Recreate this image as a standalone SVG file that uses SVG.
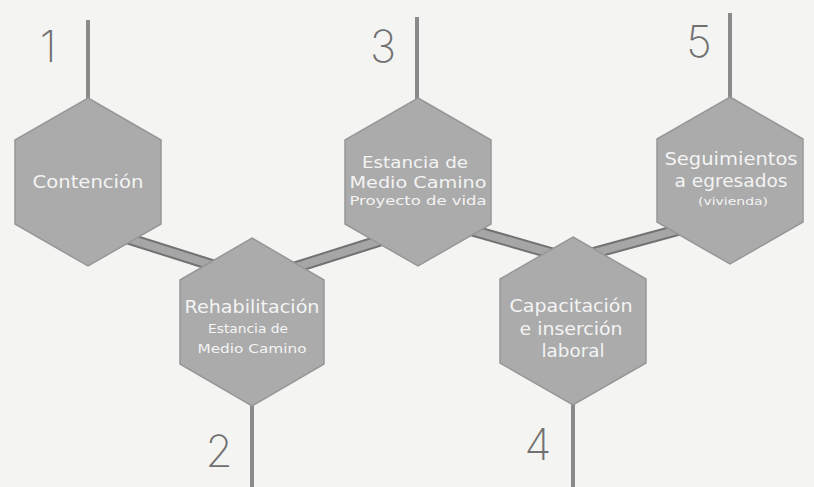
<svg xmlns="http://www.w3.org/2000/svg" width="814" height="487" viewBox="0 0 814 487">
<style>
.hex{fill:#ababab;stroke:#979797;stroke-width:1.5}
.stem{stroke:#8a8a8a;stroke-width:4;stroke-linecap:butt}
.barO{stroke:#727272;stroke-width:12;stroke-linecap:butt}
.barI{stroke:#a6a6a6;stroke-width:8;stroke-linecap:butt}
.t{font-family:"DejaVu Sans","Liberation Sans",sans-serif;fill:#f4f4f4;text-anchor:middle}
.num{font-family:Inter,Lato,"DejaVu Sans",sans-serif;font-weight:200;fill:#707070;font-size:44px;text-anchor:middle}
</style>
<rect width="814" height="487" fill="#f4f4f2"/>
<g id="connectors">
<line class="stem" x1="88" y1="20" x2="88" y2="100"/>
<line class="stem" x1="417" y1="17" x2="417" y2="100"/>
<line class="stem" x1="730" y1="13" x2="730" y2="100"/>
<line class="stem" x1="252" y1="400" x2="252" y2="487"/>
<line class="stem" x1="573" y1="400" x2="573" y2="487"/>
<line class="barO" x1="120" y1="236" x2="215" y2="266"/>
<line class="barI" x1="120" y1="236" x2="215" y2="266"/>
<line class="barO" x1="290" y1="269" x2="385" y2="239"/>
<line class="barI" x1="290" y1="269" x2="385" y2="239"/>
<line class="barO" x1="460" y1="227" x2="575" y2="260"/>
<line class="barI" x1="460" y1="227" x2="575" y2="260"/>
<line class="barO" x1="575" y1="258" x2="700" y2="224"/>
<line class="barI" x1="575" y1="258" x2="700" y2="224"/>
</g>
<g id="n1">
<polygon class="hex" points="88,98 161,140 161,224 88,266 15,224 15,140"/>
<text class="t" x="88" y="188" font-size="17" textLength="111" lengthAdjust="spacingAndGlyphs">Contención</text>
<text class="num" x="48" y="62">1</text>
</g>
<g id="n2">
<polygon class="hex" points="252,238 324,280 324,364 252,406 180,364 180,280"/>
<text class="t" x="252" y="313" font-size="17" textLength="135" lengthAdjust="spacingAndGlyphs">Rehabilitación</text>
<text class="t" x="248" y="333" font-size="12" textLength="80" lengthAdjust="spacingAndGlyphs">Estancia de</text>
<text class="t" x="252" y="353" font-size="12" textLength="109" lengthAdjust="spacingAndGlyphs">Medio Camino</text>
<text class="num" x="219" y="467">2</text>
</g>
<g id="n3">
<polygon class="hex" points="418,98 491,140 491,224 418,266 345,224 345,140"/>
<text class="t" x="415" y="168" font-size="16" textLength="106" lengthAdjust="spacingAndGlyphs">Estancia de</text>
<text class="t" x="418" y="188" font-size="16" textLength="137" lengthAdjust="spacingAndGlyphs">Medio Camino</text>
<text class="t" x="418" y="205" font-size="13" textLength="137" lengthAdjust="spacingAndGlyphs">Proyecto de vida</text>
<text class="num" x="383" y="62">3</text>
</g>
<g id="n4">
<polygon class="hex" points="573,237 646,279 646,363 573,405 500,363 500,279"/>
<text class="t" x="571" y="312" font-size="17" textLength="123" lengthAdjust="spacingAndGlyphs">Capacitación</text>
<text class="t" x="571" y="335" font-size="17" textLength="103" lengthAdjust="spacingAndGlyphs">e inserción</text>
<text class="t" x="573" y="357" font-size="17" textLength="63" lengthAdjust="spacingAndGlyphs">laboral</text>
<text class="num" x="538" y="460">4</text>
</g>
<g id="n5">
<polygon class="hex" points="730,97 803,139 803,222 730,264 657,222 657,139"/>
<text class="t" x="731" y="165" font-size="17" textLength="133" lengthAdjust="spacingAndGlyphs">Seguimientos</text>
<text class="t" x="731" y="187" font-size="17" textLength="113" lengthAdjust="spacingAndGlyphs">a egresados</text>
<text class="t" x="733" y="205" font-size="11" textLength="70" lengthAdjust="spacingAndGlyphs">(vivienda)</text>
<text class="num" x="699" y="57">5</text>
</g>
</svg>
